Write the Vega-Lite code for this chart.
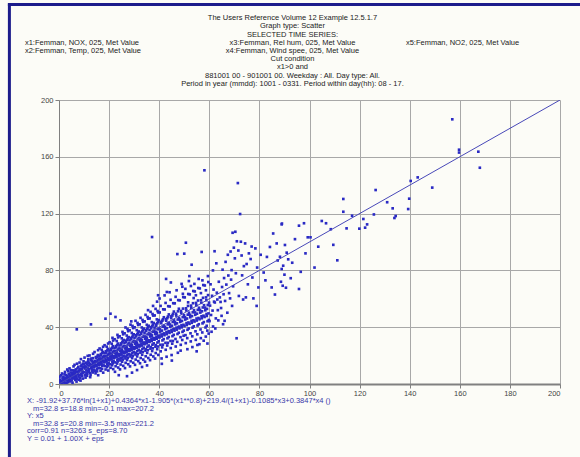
{
"$schema": "https://vega.github.io/schema/vega-lite/v6.json",
"width": 501, "height": 284,
"autosize": {"type": "none"},
"padding": {"left": 59, "top": 100, "right": 20, "bottom": 73},
"background": "#fcfcf7",
"config": {"font": "Liberation Sans", "view": {"stroke": null}, "text": {"align": "left", "baseline": "top", "fontSize": 7.5, "font": "Liberation Sans"}},
"datasets": {
"fit": [{"x": 0, "y": 0.01}, {"x": 200, "y": 200.01}],
"points": [
{"x":0.3,"y":1.2},{"x":0.5,"y":3.1},{"x":0.8,"y":0.4},{"x":1.1,"y":2.2},{"x":1.4,"y":4.5},{"x":1.6,"y":1.1},{"x":1.9,"y":3.3},{"x":0.2,"y":5.2},{"x":0.9,"y":6.1},{"x":1.3,"y":0.2},{"x":1.7,"y":2.8},{"x":0.6,"y":2.0},{"x":1.2,"y":7.4},{"x":1.8,"y":5.0},{"x":0.4,"y":0.8},
{"x":2.1,"y":1.5},{"x":2.3,"y":4.2},{"x":2.6,"y":2.7},{"x":2.8,"y":6.3},{"x":3.0,"y":0.9},{"x":3.2,"y":3.8},{"x":3.4,"y":5.6},{"x":3.6,"y":2.1},{"x":3.9,"y":7.2},{"x":2.4,"y":8.5},{"x":3.1,"y":4.9},{"x":3.7,"y":9.1},{"x":2.9,"y":3.0},{"x":3.5,"y":1.3},{"x":2.2,"y":6.8},{"x":3.8,"y":4.4},{"x":2.5,"y":0.5},{"x":3.3,"y":10.2},
{"x":4.1,"y":3.2},{"x":4.3,"y":6.0},{"x":4.5,"y":1.8},{"x":4.7,"y":8.1},{"x":4.9,"y":4.7},{"x":5.1,"y":2.5},{"x":5.3,"y":7.0},{"x":5.5,"y":5.3},{"x":5.7,"y":9.6},{"x":5.9,"y":3.9},{"x":4.2,"y":11.0},{"x":4.6,"y":5.1},{"x":5.0,"y":6.6},{"x":5.4,"y":0.9},{"x":5.8,"y":12.4},{"x":4.4,"y":2.6},{"x":5.2,"y":4.1},{"x":5.6,"y":7.9},{"x":4.8,"y":9.8},{"x":5.95,"y":6.2},
{"x":6.1,"y":4.8},{"x":6.3,"y":7.6},{"x":6.5,"y":2.9},{"x":6.7,"y":10.3},{"x":6.9,"y":5.5},{"x":7.1,"y":8.7},{"x":7.3,"y":3.6},{"x":7.5,"y":6.9},{"x":7.7,"y":12.1},{"x":7.9,"y":9.2},{"x":6.2,"y":13.5},{"x":6.6,"y":6.0},{"x":7.0,"y":1.7},{"x":7.4,"y":11.0},{"x":7.8,"y":5.2},{"x":6.4,"y":9.4},{"x":6.8,"y":4.0},{"x":7.2,"y":14.3},{"x":7.6,"y":7.8},{"x":6.0,"y":8.3},{"x":7.95,"y":3.0},{"x":7.1,"y":38.5},
{"x":8.1,"y":6.4},{"x":8.3,"y":9.9},{"x":8.5,"y":4.3},{"x":8.7,"y":12.6},{"x":8.9,"y":7.1},{"x":9.1,"y":10.8},{"x":9.3,"y":5.7},{"x":9.5,"y":14.2},{"x":9.7,"y":8.5},{"x":9.9,"y":11.7},{"x":8.2,"y":15.1},{"x":8.6,"y":2.4},{"x":9.0,"y":13.3},{"x":9.4,"y":7.6},{"x":9.8,"y":16.0},{"x":8.4,"y":10.6},{"x":8.8,"y":6.0},{"x":9.2,"y":9.0},{"x":9.6,"y":12.0},{"x":8.0,"y":8.8},{"x":9.55,"y":3.8},{"x":8.75,"y":17.5},
{"x":10.1,"y":8.2},{"x":10.3,"y":12.4},{"x":10.5,"y":6.1},{"x":10.7,"y":15.0},{"x":10.9,"y":9.6},{"x":11.1,"y":13.7},{"x":11.3,"y":7.3},{"x":11.5,"y":11.2},{"x":11.7,"y":17.4},{"x":11.9,"y":10.0},{"x":10.2,"y":18.6},{"x":10.6,"y":4.5},{"x":11.0,"y":14.8},{"x":11.4,"y":9.1},{"x":11.8,"y":13.0},{"x":10.4,"y":10.9},{"x":10.8,"y":11.8},{"x":11.2,"y":5.8},{"x":11.6,"y":15.9},{"x":10.0,"y":13.9},{"x":11.45,"y":19.8},{"x":10.95,"y":7.7},{"x":11.85,"y":8.4},
{"x":12.1,"y":10.5},{"x":12.3,"y":14.1},{"x":12.5,"y":7.9},{"x":12.7,"y":16.8},{"x":12.9,"y":11.4},{"x":13.1,"y":13.2},{"x":13.3,"y":9.0},{"x":13.5,"y":18.2},{"x":13.7,"y":12.3},{"x":13.9,"y":15.5},{"x":12.2,"y":20.1},{"x":12.6,"y":6.4},{"x":13.0,"y":11.9},{"x":13.4,"y":14.7},{"x":13.8,"y":9.7},{"x":12.4,"y":12.8},{"x":12.8,"y":17.9},{"x":13.2,"y":10.2},{"x":13.6,"y":21.3},{"x":12.0,"y":15.0},{"x":13.95,"y":13.6},{"x":12.45,"y":4.8},{"x":13.15,"y":16.3},{"x":12.75,"y":42.0},{"x":13.55,"y":8.1},
{"x":14.1,"y":12.0},{"x":14.3,"y":16.2},{"x":14.5,"y":9.4},{"x":14.7,"y":19.0},{"x":14.9,"y":13.3},{"x":15.1,"y":15.7},{"x":15.3,"y":10.8},{"x":15.5,"y":20.4},{"x":15.7,"y":14.0},{"x":15.9,"y":17.6},{"x":14.2,"y":22.5},{"x":14.6,"y":7.5},{"x":15.0,"y":12.6},{"x":15.4,"y":16.9},{"x":15.8,"y":11.5},{"x":14.4,"y":14.6},{"x":14.8,"y":18.3},{"x":15.2,"y":8.9},{"x":15.6,"y":23.8},{"x":14.0,"y":10.1},{"x":15.95,"y":13.9},{"x":14.55,"y":12.9},{"x":15.35,"y":19.2},{"x":14.85,"y":15.5},{"x":15.65,"y":6.2},
{"x":16.1,"y":13.6},{"x":16.3,"y":18.0},{"x":16.5,"y":11.2},{"x":16.7,"y":21.1},{"x":16.9,"y":15.4},{"x":17.1,"y":17.3},{"x":17.3,"y":12.7},{"x":17.5,"y":22.6},{"x":17.7,"y":16.1},{"x":17.9,"y":19.5},{"x":16.2,"y":25.0},{"x":16.6,"y":9.3},{"x":17.0,"y":14.2},{"x":17.4,"y":18.8},{"x":17.8,"y":13.1},{"x":16.4,"y":16.6},{"x":16.8,"y":20.3},{"x":17.2,"y":10.6},{"x":17.6,"y":26.2},{"x":16.0,"y":15.0},{"x":17.95,"y":15.6},{"x":16.45,"y":14.0},{"x":17.25,"y":21.9},{"x":16.75,"y":17.7},{"x":17.65,"y":8.0},{"x":16.15,"y":19.9},{"x":17.05,"y":24.1},
{"x":18.1,"y":15.2},{"x":18.3,"y":19.8},{"x":18.5,"y":12.6},{"x":18.7,"y":23.0},{"x":18.9,"y":17.1},{"x":19.1,"y":18.9},{"x":19.3,"y":14.3},{"x":19.5,"y":24.7},{"x":19.7,"y":17.8},{"x":19.9,"y":21.4},{"x":18.2,"y":27.3},{"x":18.6,"y":10.2},{"x":19.0,"y":15.9},{"x":19.4,"y":20.6},{"x":19.8,"y":14.8},{"x":18.4,"y":18.2},{"x":18.8,"y":22.1},{"x":19.2,"y":11.9},{"x":19.6,"y":28.5},{"x":18.0,"y":16.5},{"x":19.95,"y":17.0},{"x":18.45,"y":16.0},{"x":19.25,"y":23.6},{"x":18.75,"y":19.4},{"x":19.65,"y":9.5},{"x":18.15,"y":21.7},{"x":19.05,"y":26.3},{"x":18.55,"y":46.0},{"x":19.45,"y":13.0},
{"x":20.1,"y":16.8},{"x":20.3,"y":21.5},{"x":20.5,"y":13.9},{"x":20.7,"y":24.8},{"x":20.9,"y":18.9},{"x":21.1,"y":20.6},{"x":21.3,"y":15.8},{"x":21.5,"y":26.6},{"x":21.7,"y":19.3},{"x":21.9,"y":23.2},{"x":20.2,"y":29.4},{"x":20.6,"y":11.4},{"x":21.0,"y":17.5},{"x":21.4,"y":22.4},{"x":21.8,"y":16.4},{"x":20.4,"y":19.9},{"x":20.8,"y":24.0},{"x":21.2,"y":13.2},{"x":21.6,"y":30.6},{"x":20.0,"y":18.0},{"x":21.95,"y":18.6},{"x":20.45,"y":17.6},{"x":21.25,"y":25.5},{"x":20.75,"y":21.2},{"x":21.65,"y":10.5},{"x":20.15,"y":23.5},{"x":21.05,"y":28.4},{"x":20.55,"y":49.5},{"x":21.45,"y":14.6},{"x":20.95,"y":20.0},{"x":21.35,"y":32.5},
{"x":22.1,"y":18.4},{"x":22.3,"y":23.2},{"x":22.5,"y":15.2},{"x":22.7,"y":26.7},{"x":22.9,"y":20.5},{"x":23.1,"y":22.3},{"x":23.3,"y":17.2},{"x":23.5,"y":28.5},{"x":23.7,"y":20.9},{"x":23.9,"y":25.0},{"x":22.2,"y":31.5},{"x":22.6,"y":12.5},{"x":23.0,"y":19.1},{"x":23.4,"y":24.2},{"x":23.8,"y":17.9},{"x":22.4,"y":21.6},{"x":22.8,"y":25.9},{"x":23.2,"y":14.4},{"x":23.6,"y":32.8},{"x":22.0,"y":19.6},{"x":23.95,"y":20.2},{"x":22.45,"y":19.2},{"x":23.25,"y":27.4},{"x":22.75,"y":22.9},{"x":23.65,"y":11.6},{"x":22.15,"y":25.3},{"x":23.05,"y":30.3},{"x":22.55,"y":47.2},{"x":23.45,"y":15.9},{"x":22.95,"y":21.7},{"x":23.35,"y":34.6},{"x":22.35,"y":8.6},{"x":23.85,"y":6.2},
{"x":24.1,"y":20.0},{"x":24.3,"y":24.9},{"x":24.5,"y":16.6},{"x":24.7,"y":28.6},{"x":24.9,"y":22.1},{"x":25.1,"y":24.0},{"x":25.3,"y":18.7},{"x":25.5,"y":30.4},{"x":25.7,"y":22.5},{"x":25.9,"y":26.8},{"x":24.2,"y":33.6},{"x":24.6,"y":13.7},{"x":25.0,"y":20.7},{"x":25.4,"y":26.0},{"x":25.8,"y":19.5},{"x":24.4,"y":23.3},{"x":24.8,"y":27.8},{"x":25.2,"y":15.7},{"x":25.6,"y":35.0},{"x":24.0,"y":21.2},{"x":25.95,"y":21.9},{"x":24.45,"y":20.8},{"x":25.25,"y":29.3},{"x":24.75,"y":24.6},{"x":25.65,"y":12.8},{"x":24.15,"y":27.1},{"x":25.05,"y":32.2},{"x":24.55,"y":44.8},{"x":25.45,"y":17.2},{"x":24.95,"y":23.4},{"x":25.35,"y":36.7},{"x":24.35,"y":10.3},{"x":25.85,"y":31.0},{"x":24.65,"y":18.1},
{"x":26.1,"y":21.6},{"x":26.3,"y":26.6},{"x":26.5,"y":18.0},{"x":26.7,"y":30.5},{"x":26.9,"y":23.7},{"x":27.1,"y":25.7},{"x":27.3,"y":20.2},{"x":27.5,"y":32.3},{"x":27.7,"y":24.1},{"x":27.9,"y":28.6},{"x":26.2,"y":35.7},{"x":26.6,"y":14.9},{"x":27.0,"y":22.3},{"x":27.4,"y":27.8},{"x":27.8,"y":21.0},{"x":26.4,"y":25.0},{"x":26.8,"y":29.7},{"x":27.2,"y":16.9},{"x":27.6,"y":37.2},{"x":26.0,"y":22.8},{"x":27.95,"y":23.5},{"x":26.45,"y":22.4},{"x":27.25,"y":31.2},{"x":26.75,"y":26.3},{"x":27.65,"y":13.9},{"x":26.15,"y":28.9},{"x":27.05,"y":34.1},{"x":26.55,"y":39.8},{"x":27.45,"y":18.5},{"x":26.95,"y":25.1},{"x":27.35,"y":38.8},{"x":26.35,"y":11.2},{"x":27.85,"y":33.0},{"x":26.65,"y":19.4},{"x":27.15,"y":5.5},
{"x":28.1,"y":23.2},{"x":28.3,"y":28.3},{"x":28.5,"y":19.4},{"x":28.7,"y":32.4},{"x":28.9,"y":25.3},{"x":29.1,"y":27.4},{"x":29.3,"y":21.7},{"x":29.5,"y":34.2},{"x":29.7,"y":25.7},{"x":29.9,"y":30.4},{"x":28.2,"y":37.8},{"x":28.6,"y":16.0},{"x":29.0,"y":23.9},{"x":29.4,"y":29.6},{"x":29.8,"y":22.6},{"x":28.4,"y":26.7},{"x":28.8,"y":31.6},{"x":29.2,"y":18.2},{"x":29.6,"y":39.4},{"x":28.0,"y":24.4},{"x":29.95,"y":25.1},{"x":28.45,"y":24.0},{"x":29.25,"y":33.1},{"x":28.75,"y":28.0},{"x":29.65,"y":15.0},{"x":28.15,"y":30.7},{"x":29.05,"y":36.0},{"x":28.55,"y":41.8},{"x":29.45,"y":19.8},{"x":28.95,"y":26.8},{"x":29.35,"y":40.9},{"x":28.35,"y":12.4},{"x":29.85,"y":35.0},{"x":28.65,"y":20.7},{"x":29.15,"y":8.0},{"x":28.85,"y":44.1},
{"x":30.1,"y":24.8},{"x":30.3,"y":30.0},{"x":30.5,"y":20.8},{"x":30.7,"y":34.3},{"x":30.9,"y":26.9},{"x":31.1,"y":29.1},{"x":31.3,"y":23.2},{"x":31.5,"y":36.1},{"x":31.7,"y":27.3},{"x":31.9,"y":32.2},{"x":30.2,"y":39.9},{"x":30.6,"y":17.2},{"x":31.0,"y":25.5},{"x":31.4,"y":31.4},{"x":31.8,"y":24.1},{"x":30.4,"y":28.4},{"x":30.8,"y":33.5},{"x":31.2,"y":19.4},{"x":31.6,"y":41.6},{"x":30.0,"y":26.0},{"x":31.95,"y":26.7},{"x":30.45,"y":25.6},{"x":31.25,"y":35.0},{"x":30.75,"y":29.7},{"x":31.65,"y":16.1},{"x":30.15,"y":32.5},{"x":31.05,"y":37.9},{"x":30.55,"y":44.5},{"x":31.45,"y":21.1},{"x":30.95,"y":28.5},{"x":31.35,"y":43.0},{"x":30.35,"y":13.5},{"x":31.85,"y":37.0},{"x":30.65,"y":22.0},{"x":31.15,"y":9.8},
{"x":32.1,"y":26.4},{"x":32.3,"y":31.7},{"x":32.5,"y":22.1},{"x":32.7,"y":36.2},{"x":32.9,"y":28.5},{"x":33.1,"y":30.8},{"x":33.3,"y":24.7},{"x":33.5,"y":38.0},{"x":33.7,"y":28.9},{"x":33.9,"y":34.0},{"x":32.2,"y":42.0},{"x":32.6,"y":18.3},{"x":33.0,"y":27.1},{"x":33.4,"y":33.2},{"x":33.8,"y":25.6},{"x":32.4,"y":30.1},{"x":32.8,"y":35.4},{"x":33.2,"y":20.6},{"x":33.6,"y":43.8},{"x":32.0,"y":27.6},{"x":33.95,"y":28.3},{"x":32.45,"y":27.2},{"x":33.25,"y":37.0},{"x":32.75,"y":31.4},{"x":33.65,"y":17.2},{"x":32.15,"y":34.3},{"x":33.05,"y":39.8},{"x":32.55,"y":46.6},{"x":33.45,"y":22.5},{"x":32.95,"y":30.2},{"x":33.35,"y":45.1},{"x":32.35,"y":14.6},{"x":33.85,"y":39.0},{"x":32.65,"y":23.3},{"x":33.15,"y":12.0},
{"x":34.1,"y":28.0},{"x":34.3,"y":33.4},{"x":34.5,"y":23.5},{"x":34.7,"y":38.1},{"x":34.9,"y":30.1},{"x":35.1,"y":32.5},{"x":35.3,"y":26.2},{"x":35.5,"y":39.9},{"x":35.7,"y":30.5},{"x":35.9,"y":35.8},{"x":34.2,"y":44.1},{"x":34.6,"y":19.5},{"x":35.0,"y":28.7},{"x":35.4,"y":35.0},{"x":35.8,"y":27.1},{"x":34.4,"y":31.8},{"x":34.8,"y":37.3},{"x":35.2,"y":21.9},{"x":35.6,"y":46.0},{"x":34.0,"y":29.2},{"x":35.95,"y":29.9},{"x":34.45,"y":28.8},{"x":35.25,"y":38.9},{"x":34.75,"y":33.1},{"x":35.65,"y":18.3},{"x":34.15,"y":36.1},{"x":35.05,"y":41.7},{"x":34.55,"y":48.7},{"x":35.45,"y":23.8},{"x":34.95,"y":31.9},{"x":35.35,"y":47.2},{"x":34.35,"y":15.7},{"x":35.85,"y":41.0},{"x":34.65,"y":24.6},{"x":35.15,"y":13.1},{"x":35.55,"y":52.0},
{"x":36.1,"y":29.6},{"x":36.3,"y":35.1},{"x":36.5,"y":24.9},{"x":36.7,"y":40.0},{"x":36.9,"y":31.7},{"x":37.1,"y":34.2},{"x":37.3,"y":27.7},{"x":37.5,"y":41.8},{"x":37.7,"y":32.1},{"x":37.9,"y":37.6},{"x":36.2,"y":46.2},{"x":36.6,"y":20.6},{"x":37.0,"y":30.3},{"x":37.4,"y":36.8},{"x":37.8,"y":28.6},{"x":36.4,"y":33.5},{"x":36.8,"y":39.2},{"x":37.2,"y":23.2},{"x":37.6,"y":48.2},{"x":36.0,"y":30.8},{"x":37.95,"y":31.5},{"x":36.45,"y":30.4},{"x":37.25,"y":40.8},{"x":36.75,"y":34.8},{"x":37.65,"y":19.4},{"x":36.15,"y":37.9},{"x":37.05,"y":43.6},{"x":36.55,"y":50.8},{"x":37.45,"y":25.1},{"x":36.95,"y":33.6},{"x":37.35,"y":49.3},{"x":36.35,"y":16.8},{"x":37.85,"y":43.0},{"x":36.65,"y":26.0},{"x":37.15,"y":103.5},{"x":37.55,"y":55.0},
{"x":38.1,"y":31.2},{"x":38.3,"y":36.8},{"x":38.5,"y":26.3},{"x":38.7,"y":41.9},{"x":38.9,"y":33.3},{"x":39.1,"y":35.9},{"x":39.3,"y":29.2},{"x":39.5,"y":43.7},{"x":39.7,"y":33.7},{"x":39.9,"y":39.4},{"x":38.2,"y":48.3},{"x":38.6,"y":21.8},{"x":39.0,"y":31.9},{"x":39.4,"y":38.6},{"x":39.8,"y":30.1},{"x":38.4,"y":35.2},{"x":38.8,"y":41.0},{"x":39.2,"y":24.5},{"x":39.6,"y":50.4},{"x":38.0,"y":32.4},{"x":39.95,"y":33.1},{"x":38.45,"y":32.0},{"x":39.25,"y":42.7},{"x":38.75,"y":36.5},{"x":39.65,"y":20.5},{"x":38.15,"y":39.7},{"x":39.05,"y":45.5},{"x":38.55,"y":52.9},{"x":39.45,"y":26.4},{"x":38.95,"y":35.3},{"x":39.35,"y":51.4},{"x":38.35,"y":17.9},{"x":39.85,"y":45.0},{"x":38.65,"y":27.4},{"x":39.15,"y":58.0},{"x":39.55,"y":62.5},
{"x":40.1,"y":32.8},{"x":40.3,"y":38.5},{"x":40.5,"y":27.6},{"x":40.7,"y":43.8},{"x":40.9,"y":34.9},{"x":41.1,"y":37.6},{"x":41.3,"y":30.7},{"x":41.5,"y":45.6},{"x":41.7,"y":35.3},{"x":41.9,"y":41.2},{"x":40.2,"y":50.4},{"x":40.6,"y":23.0},{"x":41.0,"y":33.5},{"x":41.4,"y":40.3},{"x":41.8,"y":31.6},{"x":40.4,"y":36.9},{"x":40.8,"y":42.8},{"x":41.2,"y":25.8},{"x":41.6,"y":52.6},{"x":40.0,"y":34.0},{"x":41.25,"y":44.6},{"x":40.55,"y":55.0},{"x":41.45,"y":27.7},{"x":40.95,"y":18.0},{"x":41.85,"y":47.0},{"x":40.15,"y":60.2},{"x":41.05,"y":14.2},
{"x":42.1,"y":34.4},{"x":42.3,"y":40.2},{"x":42.5,"y":29.0},{"x":42.7,"y":45.7},{"x":42.9,"y":36.5},{"x":43.1,"y":39.3},{"x":43.3,"y":32.2},{"x":43.5,"y":47.5},{"x":43.7,"y":36.9},{"x":43.9,"y":43.0},{"x":42.2,"y":52.5},{"x":42.6,"y":24.1},{"x":43.0,"y":35.1},{"x":43.4,"y":42.0},{"x":43.8,"y":33.1},{"x":42.4,"y":38.6},{"x":42.8,"y":44.6},{"x":43.2,"y":27.1},{"x":43.6,"y":54.8},{"x":42.0,"y":35.6},{"x":43.25,"y":46.4},{"x":42.55,"y":57.1},{"x":43.45,"y":29.0},{"x":42.95,"y":19.2},{"x":43.85,"y":49.0},{"x":42.15,"y":62.4},{"x":43.05,"y":64.8},{"x":42.75,"y":74.0},
{"x":44.1,"y":36.0},{"x":44.3,"y":41.9},{"x":44.5,"y":30.3},{"x":44.7,"y":47.6},{"x":44.9,"y":38.1},{"x":45.1,"y":41.0},{"x":45.3,"y":33.7},{"x":45.5,"y":49.4},{"x":45.7,"y":38.5},{"x":45.9,"y":44.8},{"x":44.2,"y":54.6},{"x":44.6,"y":25.3},{"x":45.0,"y":36.7},{"x":45.4,"y":43.7},{"x":45.8,"y":34.6},{"x":44.4,"y":40.3},{"x":44.8,"y":46.4},{"x":45.2,"y":28.4},{"x":45.6,"y":56.9},{"x":44.0,"y":37.2},{"x":45.25,"y":48.2},{"x":44.55,"y":59.3},{"x":45.45,"y":30.3},{"x":44.95,"y":20.4},{"x":45.85,"y":51.0},{"x":44.15,"y":64.6},{"x":45.05,"y":16.5},{"x":44.65,"y":71.5},
{"x":46.1,"y":37.6},{"x":46.3,"y":43.6},{"x":46.5,"y":31.7},{"x":46.7,"y":49.5},{"x":46.9,"y":39.7},{"x":47.1,"y":42.7},{"x":47.3,"y":35.2},{"x":47.5,"y":51.2},{"x":47.7,"y":40.1},{"x":47.9,"y":46.6},{"x":46.2,"y":56.8},{"x":46.6,"y":26.4},{"x":47.0,"y":38.3},{"x":47.4,"y":45.4},{"x":47.8,"y":36.1},{"x":46.4,"y":42.0},{"x":46.8,"y":48.2},{"x":47.2,"y":29.7},{"x":47.6,"y":59.1},{"x":46.0,"y":38.8},{"x":47.25,"y":91.5},{"x":46.55,"y":61.4},{"x":47.45,"y":22.0},{"x":46.95,"y":66.0},{"x":47.85,"y":53.0},
{"x":48.1,"y":39.2},{"x":48.3,"y":45.3},{"x":48.5,"y":33.0},{"x":48.7,"y":51.4},{"x":48.9,"y":41.3},{"x":49.1,"y":44.4},{"x":49.3,"y":36.7},{"x":49.5,"y":53.1},{"x":49.7,"y":41.7},{"x":49.9,"y":48.4},{"x":48.2,"y":58.9},{"x":48.6,"y":27.6},{"x":49.0,"y":39.9},{"x":49.4,"y":47.1},{"x":49.8,"y":37.6},{"x":48.4,"y":43.7},{"x":48.8,"y":50.0},{"x":49.2,"y":31.0},{"x":49.6,"y":61.2},{"x":48.0,"y":40.4},{"x":49.25,"y":68.5},{"x":48.55,"y":23.5},{"x":49.45,"y":63.5},{"x":48.95,"y":70.5},{"x":49.75,"y":34.0},
{"x":50.1,"y":40.8},{"x":50.3,"y":47.0},{"x":50.5,"y":34.4},{"x":50.7,"y":53.3},{"x":50.9,"y":42.9},{"x":51.1,"y":46.1},{"x":51.3,"y":38.2},{"x":51.5,"y":55.0},{"x":51.7,"y":43.3},{"x":51.9,"y":50.2},{"x":50.2,"y":61.0},{"x":50.6,"y":28.8},{"x":51.0,"y":41.5},{"x":51.4,"y":48.8},{"x":51.8,"y":39.1},{"x":50.4,"y":45.4},{"x":50.8,"y":51.8},{"x":51.2,"y":32.3},{"x":51.6,"y":63.4},{"x":50.0,"y":91.8},{"x":50.45,"y":67.0},{"x":51.25,"y":24.5},{"x":51.85,"y":72.5},{"x":50.65,"y":99.5},{"x":51.55,"y":57.5},
{"x":52.1,"y":42.4},{"x":52.3,"y":48.7},{"x":52.5,"y":35.7},{"x":52.7,"y":55.2},{"x":52.9,"y":44.5},{"x":53.1,"y":47.8},{"x":53.3,"y":39.7},{"x":53.5,"y":56.9},{"x":53.7,"y":44.9},{"x":53.9,"y":52.0},{"x":52.2,"y":63.1},{"x":52.6,"y":30.0},{"x":53.0,"y":43.1},{"x":53.4,"y":50.5},{"x":53.8,"y":40.6},{"x":52.4,"y":47.0},{"x":52.8,"y":53.6},{"x":53.2,"y":33.6},{"x":53.6,"y":65.5},{"x":52.05,"y":76.0},{"x":53.25,"y":26.0},{"x":52.65,"y":69.0},{"x":53.75,"y":60.5},{"x":52.95,"y":84.0},
{"x":54.1,"y":44.0},{"x":54.3,"y":50.4},{"x":54.5,"y":37.1},{"x":54.7,"y":57.1},{"x":54.9,"y":46.1},{"x":55.1,"y":49.5},{"x":55.3,"y":41.2},{"x":55.5,"y":58.8},{"x":55.7,"y":46.5},{"x":55.9,"y":53.7},{"x":54.2,"y":65.2},{"x":54.6,"y":31.1},{"x":55.0,"y":44.7},{"x":55.4,"y":52.2},{"x":55.8,"y":42.1},{"x":54.4,"y":48.7},{"x":54.8,"y":55.4},{"x":55.2,"y":35.0},{"x":55.6,"y":67.6},{"x":54.05,"y":70.5},{"x":55.25,"y":27.5},{"x":54.65,"y":62.5},{"x":55.75,"y":74.0},{"x":54.95,"y":23.0},
{"x":56.1,"y":45.6},{"x":56.3,"y":52.1},{"x":56.5,"y":38.4},{"x":56.7,"y":59.0},{"x":56.9,"y":47.7},{"x":57.1,"y":51.2},{"x":57.3,"y":42.7},{"x":57.5,"y":60.7},{"x":57.7,"y":48.1},{"x":57.9,"y":55.5},{"x":56.2,"y":67.3},{"x":56.6,"y":32.3},{"x":57.0,"y":46.3},{"x":57.4,"y":53.9},{"x":57.8,"y":43.6},{"x":56.4,"y":50.3},{"x":56.8,"y":57.2},{"x":57.2,"y":36.3},{"x":57.6,"y":69.7},{"x":56.05,"y":28.0},{"x":57.25,"y":73.0},{"x":56.65,"y":64.0},{"x":57.75,"y":30.5},{"x":56.95,"y":93.0},
{"x":58.1,"y":47.2},{"x":58.3,"y":53.8},{"x":58.5,"y":39.8},{"x":58.7,"y":61.0},{"x":58.9,"y":49.3},{"x":59.1,"y":52.9},{"x":59.3,"y":44.2},{"x":59.5,"y":62.6},{"x":59.7,"y":49.7},{"x":59.9,"y":57.3},{"x":58.2,"y":69.4},{"x":58.6,"y":33.4},{"x":59.0,"y":47.9},{"x":59.4,"y":55.6},{"x":59.8,"y":45.1},{"x":58.4,"y":51.9},{"x":58.8,"y":59.0},{"x":59.2,"y":37.6},{"x":59.6,"y":71.8},{"x":58.05,"y":150.5},{"x":59.25,"y":28.5},{"x":58.65,"y":66.0},{"x":59.75,"y":35.5},{"x":58.95,"y":41.0},{"x":59.45,"y":76.0},
{"x":60.3,"y":55.2},{"x":60.7,"y":48.6},{"x":61.1,"y":62.1},{"x":61.5,"y":40.5},{"x":61.9,"y":58.0},{"x":60.5,"y":70.2},{"x":61.3,"y":51.7},{"x":60.9,"y":36.8},{"x":61.7,"y":66.5},{"x":60.1,"y":44.3},{"x":61.45,"y":80.0},
{"x":62.2,"y":57.4},{"x":62.6,"y":46.2},{"x":63.0,"y":64.3},{"x":63.4,"y":52.0},{"x":63.8,"y":72.0},{"x":62.4,"y":39.1},{"x":63.2,"y":59.5},{"x":62.8,"y":85.0},{"x":63.6,"y":44.8},{"x":62.1,"y":93.5},
{"x":64.2,"y":61.0},{"x":64.7,"y":53.5},{"x":65.1,"y":68.3},{"x":65.5,"y":42.1},{"x":65.9,"y":74.6},{"x":64.5,"y":57.8},{"x":65.3,"y":80.5},{"x":64.9,"y":48.0},{"x":65.7,"y":63.2},
{"x":66.3,"y":58.5},{"x":66.8,"y":70.0},{"x":67.2,"y":50.2},{"x":67.6,"y":76.4},{"x":66.5,"y":86.0},{"x":67.9,"y":64.0},{"x":66.1,"y":44.5},{"x":67.4,"y":91.0},
{"x":68.3,"y":60.3},{"x":68.7,"y":73.5},{"x":69.1,"y":55.0},{"x":69.5,"y":68.8},{"x":68.9,"y":80.2},{"x":69.8,"y":96.0},{"x":68.5,"y":93.3},{"x":69.3,"y":106.5},
{"x":70.4,"y":107.2},{"x":70.9,"y":32.2},{"x":71.0,"y":100.5},{"x":71.4,"y":141.5},{"x":70.6,"y":78.0},{"x":71.8,"y":62.0},{"x":70.2,"y":88.5},{"x":71.6,"y":94.0},
{"x":72.3,"y":119.7},{"x":72.6,"y":100.2},{"x":73.1,"y":76.5},{"x":73.5,"y":59.5},{"x":72.9,"y":90.5},{"x":73.8,"y":83.0},
{"x":74.3,"y":99.0},{"x":74.9,"y":84.5},{"x":75.4,"y":70.2},{"x":75.8,"y":92.0},{"x":74.6,"y":61.0},
{"x":76.5,"y":88.0},{"x":77.2,"y":75.0},{"x":77.6,"y":60.3},{"x":76.9,"y":96.8},
{"x":78.4,"y":95.5},{"x":79.1,"y":82.0},{"x":79.6,"y":68.0},{"x":78.9,"y":55.0},
{"x":80.5,"y":91.0},{"x":81.7,"y":78.5},{"x":83.0,"y":89.5},{"x":84.2,"y":96.5},{"x":85.5,"y":106.0},{"x":86.2,"y":63.0},{"x":87.3,"y":87.0},{"x":88.2,"y":89.6},{"x":88.6,"y":72.0},{"x":88.9,"y":81.0},{"x":89.0,"y":113.0},{"x":89.3,"y":69.2},{"x":89.5,"y":83.3},{"x":82.4,"y":73.0},{"x":84.9,"y":68.0},{"x":86.9,"y":99.0},{"x":90.0,"y":77.0},
{"x":90.2,"y":97.9},{"x":90.6,"y":67.8},{"x":90.9,"y":92.5},{"x":91.5,"y":87.8},{"x":93.1,"y":85.4},{"x":94.2,"y":102.0},{"x":95.8,"y":66.9},{"x":95.8,"y":111.5},{"x":97.8,"y":113.2},{"x":99.3,"y":103.3},{"x":92.5,"y":74.5},{"x":96.5,"y":79.0},{"x":98.4,"y":92.0},{"x":88.9,"y":112.4},
{"x":100.4,"y":103.3},{"x":103.5,"y":96.7},{"x":104.9,"y":114.8},{"x":106.6,"y":113.2},{"x":108.5,"y":109.0},{"x":111.1,"y":87.1},{"x":113.5,"y":130.3},{"x":113.5,"y":121.3},{"x":114.8,"y":109.6},{"x":119.9,"y":109.4},{"x":102.0,"y":82.0},{"x":109.5,"y":98.0},{"x":117.0,"y":118.5},
{"x":121.5,"y":116.2},{"x":122.2,"y":110.1},{"x":123.0,"y":112.4},{"x":125.7,"y":119.4},{"x":126.4,"y":136.6},{"x":133.2,"y":123.7},{"x":133.9,"y":116.9},{"x":134.4,"y":118.3},{"x":139.4,"y":123.2},{"x":139.8,"y":130.5},{"x":140.4,"y":143.0},{"x":143.2,"y":145.5},{"x":149.0,"y":138.3},{"x":157.0,"y":186.4},{"x":159.7,"y":165.0},{"x":159.7,"y":163.0},{"x":167.4,"y":163.6},{"x":168.0,"y":152.3},{"x":131.0,"y":128.0}
]
},
"layer": [
{
"data": {"name": "points"},
"mark": {"type": "square", "size": 7, "color": "#2a2ac4", "opacity": 1, "clip": true},
"encoding": {
"x": {"field": "x", "type": "quantitative", "scale": {"domain": [0, 200], "nice": false, "zero": false},
"axis": {"values": [0,20,40,60,80,100,120,140,160,180,200], "grid": true, "gridColor": "#a8a8a8", "gridWidth": 1, "domainColor": "#808080", "domainWidth": 2, "tickColor": "#808080", "tickSize": 4, "labelFontSize": 7.5, "labelColor": "#444444", "labelPadding": 1, "labelFont": "Liberation Sans", "title": null}},
"y": {"field": "y", "type": "quantitative", "scale": {"domain": [0, 200], "nice": false, "zero": false},
"axis": {"values": [0,20,40,60,80,100,120,140,160,180,200], "grid": true, "gridColor": "#a8a8a8", "gridWidth": 1, "domainColor": "#808080", "domainWidth": 1, "tickColor": "#808080", "tickSize": 4, "labelFontSize": 7.5, "labelColor": "#444444", "labelPadding": 2, "labelFont": "Liberation Sans", "title": null}}
}
},
{
"data": {"name": "fit"},
"mark": {"type": "line", "color": "#4848b8", "strokeWidth": 1, "clip": true},
"encoding": {"x": {"field": "x", "type": "quantitative"}, "y": {"field": "y", "type": "quantitative"}}
},
{
"data": {"values": [{}]},
"mark": {"type": "text", "text": ["The Users Reference Volume 12 Example 12.5.1.7", "Graph type: Scatter", "SELECTED TIME SERIES:", "x3:Femman, Rel hum, 025, Met Value", "x4:Femman, Wind spee, 025, Met Value", "Cut condition", "x1>0 and", "881001 00 - 901001 00. Weekday : All. Day type: All.", "Period in year (mmdd): 1001 - 0331. Period within day(hh): 08 - 17."], "align": "center", "lineHeight": 8.2, "color": "#222222"},
"encoding": {"x": {"datum": 93.2, "type": "quantitative"}, "y": {"datum": 260.35, "type": "quantitative"}}
},
{
"data": {"values": [{}]},
"mark": {"type": "text", "text": ["x1:Femman, NOX, 025, Met Value", "x2:Femman, Temp, 025, Met Value"], "lineHeight": 8.2, "color": "#222222"},
"encoding": {"x": {"datum": -13.6, "type": "quantitative"}, "y": {"datum": 243, "type": "quantitative"}}
},
{
"data": {"values": [{}]},
"mark": {"type": "text", "text": "x5:Femman, NO2, 025, Met Value", "color": "#222222"},
"encoding": {"x": {"datum": 138.5, "type": "quantitative"}, "y": {"datum": 243, "type": "quantitative"}}
},
{
"data": {"values": [{}]},
"mark": {"type": "text", "text": "X: -91.92+37.76*ln(1+x1)+0.4364*x1-1.905*(x1**0.8)+219.4/(1+x1)-0.1085*x3+0.3847*x4 ()", "color": "#3636a8"},
"encoding": {"x": {"datum": -12.77, "type": "quantitative"}, "y": {"datum": -9.15, "type": "quantitative"}}
},
{
"data": {"values": [{}]},
"mark": {"type": "text", "text": "m=32.8 s=18.8 min=-0.1 max=207.2", "color": "#3636a8"},
"encoding": {"x": {"datum": -10.38, "type": "quantitative"}, "y": {"datum": -14.51, "type": "quantitative"}}
},
{
"data": {"values": [{}]},
"mark": {"type": "text", "text": "Y: x5", "color": "#3636a8"},
"encoding": {"x": {"datum": -12.77, "type": "quantitative"}, "y": {"datum": -19.86, "type": "quantitative"}}
},
{
"data": {"values": [{}]},
"mark": {"type": "text", "text": "m=32.8 s=20.8 min=-3.5 max=221.2", "color": "#3636a8"},
"encoding": {"x": {"datum": -10.38, "type": "quantitative"}, "y": {"datum": -25.21, "type": "quantitative"}}
},
{
"data": {"values": [{}]},
"mark": {"type": "text", "text": ["corr=0.91 n=3263 s_eps=8.70", "Y = 0.01 + 1.00X + eps"], "lineHeight": 7.6, "color": "#3636a8"},
"encoding": {"x": {"datum": -12.77, "type": "quantitative"}, "y": {"datum": -30.56, "type": "quantitative"}}
},
{
"data": {"values": [{}]},
"mark": {"type": "rule", "color": "#1c1c8c", "strokeWidth": 3},
"encoding": {"x": {"datum": -19.8, "type": "quantitative"}, "y": {"datum": -52, "type": "quantitative"}, "y2": {"datum": 268}}
},
{
"data": {"values": [{}]},
"mark": {"type": "rule", "color": "#1c1c8c", "strokeWidth": 3},
"encoding": {"y": {"datum": 267.2, "type": "quantitative"}, "x": {"datum": -20.4, "type": "quantitative"}, "x2": {"datum": 208}}
}
]
}
